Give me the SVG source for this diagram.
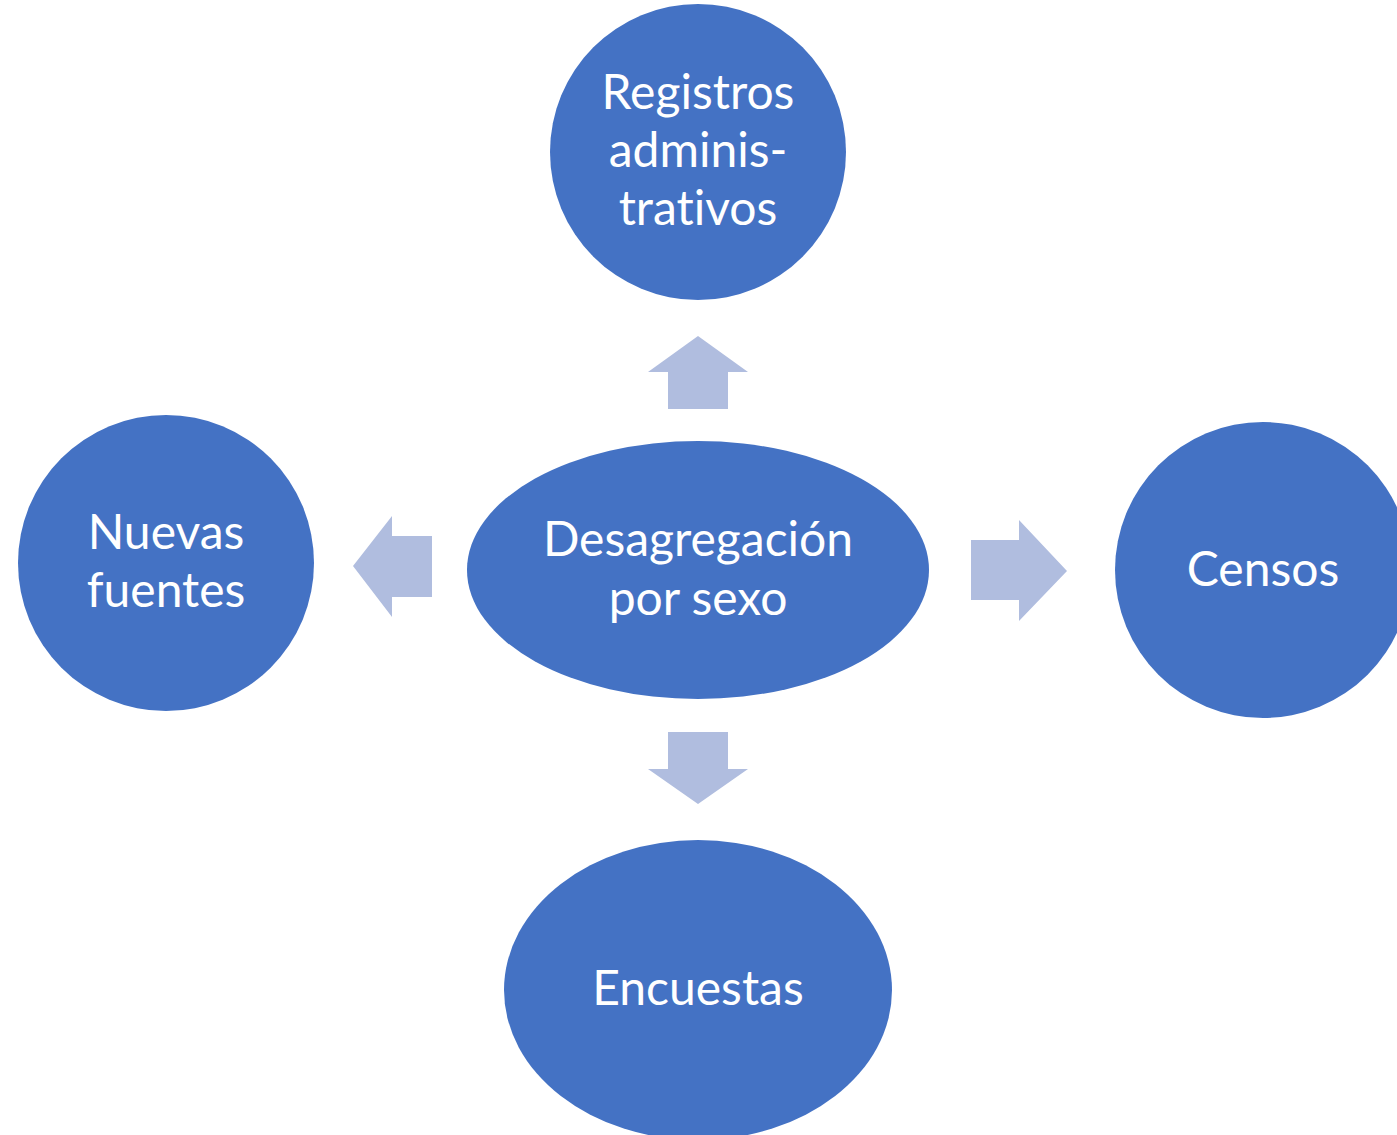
<svg xmlns="http://www.w3.org/2000/svg" width="1397" height="1135" viewBox="0 0 1397 1135">
<style>
.node{fill:#4472C4;}
.arrow{fill:#B0BDDF;}
.label{fill:#FFFFFF;font-family:Lato,"Open Sans","Liberation Sans",sans-serif;font-size:48px;text-anchor:middle;font-variant-ligatures:none;}
</style>
<rect width="1397" height="1135" fill="#FFFFFF"/>
<g id="connectors">
<polygon class="arrow" points="698,336 748,372 728,372 728,409 668,409 668,372 648,372"/>
<polygon class="arrow" points="698,804 748,769 728,769 728,732 668,732 668,769 648,769"/>
<polygon class="arrow" points="353,566 392,516 392,536 432,536 432,597 392,597 392,617"/>
<polygon class="arrow" points="1067,571 1019,520 1019,540 971,540 971,600 1019,600 1019,621"/>
</g>
<g id="node-center">
<ellipse class="node" cx="698" cy="570" rx="231" ry="129"/>
<text class="label" x="698" y="556">Desagregación</text>
<text class="label" x="698" y="615">por sexo</text>
</g>
<g id="node-registros">
<circle class="node" cx="698" cy="152" r="148"/>
<text class="label" x="698" y="109">Registros</text>
<text class="label" x="698" y="167">adminis-</text>
<text class="label" x="698" y="225">trativos</text>
</g>
<g id="node-nuevas">
<circle class="node" cx="166" cy="563" r="148"/>
<text class="label" x="166" y="549">Nuevas</text>
<text class="label" x="166" y="607">fuentes</text>
</g>
<g id="node-censos">
<circle class="node" cx="1263" cy="570" r="148"/>
<text class="label" x="1263" y="586">Censos</text>
</g>
<g id="node-encuestas">
<ellipse class="node" cx="698" cy="990" rx="194" ry="150"/>
<text class="label" x="698" y="1005">Encuestas</text>
</g>
</svg>
